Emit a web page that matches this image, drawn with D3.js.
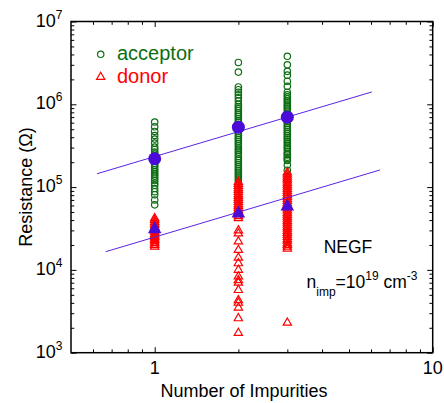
<!DOCTYPE html>
<html>
<head>
<meta charset="utf-8">
<script src="https://cdn.jsdelivr.net/npm/d3@7"></script>
<style>
  body { margin: 0; background: #fff; }
  svg { display: block; font-family: "Liberation Sans", Arial, sans-serif; }
</style>
</head>
<body>
<div id="chart"></div>
<script>
// number of impurities for each column
const impurities = [1, 2, 3]

// acceptor resistances (Ohm), one list per column
const acceptor1 = [6.1e5, 5.35e5, 4.7e5, 4.2e5, 3.8e5, 3.4e5, 3.05e5, 2.85e5, 2.65e5, 2.5e5, 2.35e5, 2.2e5,
                   2.05e5, 1.93e5, 1.82e5, 1.72e5, 1.62e5, 1.53e5, 1.44e5, 1.36e5, 1.28e5, 1.2e5, 1.12e5,
                   1.05e5, 9.6e4, 8.8e4, 8.1e4, 7.0e4, 6.1e4]
const acceptor2 = [3.2e6, 2.45e6, 1.62e6, 1.5e6, 1.4e6, 1.3e6, 1.2e6, 1.1e6, 1.0e6, 9.4e5, 8.9e5, 8.4e5,
                   7.9e5, 7.5e5, 7.1e5, 6.7e5, 6.3e5, 6.0e5, 5.6e5, 5.3e5, 5.0e5, 4.7e5, 4.45e5, 4.2e5,
                   3.95e5, 3.75e5, 3.55e5, 3.35e5, 3.15e5, 2.95e5, 2.8e5, 2.65e5, 2.5e5, 2.35e5, 2.2e5,
                   2.1e5, 1.98e5, 1.87e5, 1.76e5, 1.66e5, 1.57e5, 1.48e5, 1.4e5, 1.32e5, 1.25e5, 1.18e5]
const acceptor3 = [3.8e6, 3.0e6, 2.5e6, 2.25e6, 1.9e6, 1.65e6, 1.4e6, 1.3e6, 1.23e6, 1.16e6, 1.1e6, 1.04e6,
                   9.8e5, 9.3e5, 8.8e5, 8.3e5, 7.8e5, 7.4e5, 7.0e5, 6.6e5, 6.25e5, 5.9e5, 5.6e5, 5.3e5,
                   5.0e5, 4.7e5, 4.45e5, 4.2e5, 4.0e5, 3.8e5, 3.6e5, 3.4e5, 3.2e5, 3.05e5, 2.9e5, 2.7e5,
                   2.55e5, 2.45e5, 2.3e5, 2.2e5, 2.1e5, 1.85e5, 1.6e5]

// donor resistances (Ohm)
const donor1 = [4.2e4, 4.0e4, 3.8e4, 3.6e4, 3.45e4, 3.3e4, 3.15e4, 3.0e4, 2.85e4, 2.7e4, 2.6e4, 2.5e4,
                2.4e4, 2.3e4, 2.2e4, 2.1e4, 2.0e4, 1.9e4]
const donor2 = [1.15e5, 1.09e5, 1.03e5, 9.7e4, 9.2e4, 8.7e4, 8.2e4, 7.8e4, 7.4e4, 7.0e4, 6.6e4, 6.2e4,
                5.9e4, 5.6e4, 5.3e4, 5.0e4, 4.7e4, 4.45e4, 4.2e4,
                3.0e4, 2.75e4, 2.2e4, 1.74e4, 1.4e4, 1.2e4, 1.0e4, 8.3e3, 7.5e3, 7.0e3, 5.7e3, 4.3e3,
                4.0e3, 3.5e3, 2.6e3, 1.73e3]
const donor3 = [1.5e5, 1.42e5, 1.33e5, 1.26e5, 1.2e5, 1.13e5, 1.07e5, 1.01e5, 9.5e4, 9.0e4, 8.5e4, 8.0e4,
                7.6e4, 7.2e4, 6.8e4, 6.4e4, 6.1e4, 5.8e4, 5.5e4, 5.2e4, 4.9e4, 4.65e4, 4.4e4, 4.15e4,
                3.9e4, 3.7e4, 3.5e4, 3.3e4, 3.15e4, 2.95e4, 2.8e4, 2.65e4, 2.5e4, 2.35e4, 2.25e4, 2.1e4,
                2.0e4, 1.9e4, 1.8e4, 2.3e3]

// averages (big markers)
const acceptorMean = [2.2e5, 5.3e5, 7.0e5]
const donorMean = [3.1e4, 4.8e4, 5.8e4]

// fitted lines, endpoints
const fitAcceptorX = [0.62, 6.04]
const fitAcceptorY = [1.45e5, 1.41e6]
const fitDonorX = [0.667, 6.46]
const fitDonorY = [1.66e4, 1.61e5]

const xMajor = [1, 10]
const xMinor = [0.6, 0.7, 0.8, 0.9, 2, 3, 4, 5, 6, 7, 8, 9]
const yExponents = [3, 4, 5, 6, 7]

const width = 444, height = 403
const plotLeft = 71, plotRight = 432.7, plotTop = 21.5, plotBottom = 352.7
const green = "#0c6e12", red = "#ff0000", blue = "#4a0ad8"

const x = d3.scaleLog().domain([0.5, 10]).range([plotLeft, plotRight])
const y = d3.scaleLog().domain([1e3, 1e7]).range([plotBottom, plotTop])

const yMajor = yExponents.map(e => Math.pow(10, e))
const yMinor = []
yExponents.slice(0, -1).forEach(e => {
  for (let m = 2; m <= 9; m++) yMinor.push(m * Math.pow(10, e))
})

const svg = d3.select("#chart").append("svg")
  .attr("width", width)
  .attr("height", height)

// ticks on all four sides, pointing inwards
function ticks(axisFn, scale, values, size, transform) {
  svg.append("g")
    .attr("transform", transform)
    .call(axisFn(scale).tickValues(values).tickSize(-size).tickSizeOuter(0).tickFormat(""))
    .call(g => g.select(".domain").remove())
    .call(g => g.selectAll("line").attr("stroke", "#000").attr("stroke-width", 1))
}
ticks(d3.axisBottom, x, xMajor, 5.5, `translate(0,${plotBottom})`)
ticks(d3.axisBottom, x, xMinor, 3.3, `translate(0,${plotBottom})`)
ticks(d3.axisTop, x, xMajor, 5.5, `translate(0,${plotTop})`)
ticks(d3.axisTop, x, xMinor, 3.3, `translate(0,${plotTop})`)
ticks(d3.axisLeft, y, yMajor, 5.5, `translate(${plotLeft},0)`)
ticks(d3.axisLeft, y, yMinor, 3.3, `translate(${plotLeft},0)`)
ticks(d3.axisRight, y, yMajor, 5.5, `translate(${plotRight},0)`)
ticks(d3.axisRight, y, yMinor, 3.3, `translate(${plotRight},0)`)

svg.append("rect")
  .attr("x", plotLeft).attr("y", plotTop)
  .attr("width", plotRight - plotLeft).attr("height", plotBottom - plotTop)
  .attr("fill", "none").attr("stroke", "#000").attr("stroke-width", 1.5)

// tick labels
svg.selectAll(".xlabel")
  .data(xMajor)
  .enter().append("text")
  .attr("x", d => x(d))
  .attr("y", 373.5)
  .attr("text-anchor", "middle")
  .attr("font-size", 18)
  .text(d => d)

const ylab = svg.selectAll(".ylabel")
  .data(yExponents)
  .enter().append("text")
  .attr("x", 62.5)
  .attr("y", d => y(Math.pow(10, d)) + 5)
  .attr("text-anchor", "end")
  .attr("font-size", 18)
ylab.append("tspan").text("10")
ylab.append("tspan").attr("dy", -8).attr("font-size", 12).text(d => d)

// axis titles
svg.append("text")
  .attr("x", 244).attr("y", 397)
  .attr("text-anchor", "middle")
  .attr("font-size", 18)
  .text("Number of Impurities")

svg.append("text")
  .attr("transform", `translate(32,${(plotTop + plotBottom) / 2}) rotate(-90)`)
  .attr("text-anchor", "middle")
  .attr("font-size", 18)
  .text("Resistance (Ω)")

// scatter
const triangle = d3.symbol().type(d3.symbolTriangle).size(30)
const bigTriangle = d3.symbol().type(d3.symbolTriangle).size(80)

const acceptorPts = [acceptor1, acceptor2, acceptor3]
  .flatMap((vals, i) => vals.map(v => ({ n: impurities[i], r: v })))
const donorPts = [donor1, donor2, donor3]
  .flatMap((vals, i) => vals.map(v => ({ n: impurities[i], r: v })))

svg.append("g").selectAll("circle")
  .data(acceptorPts)
  .enter().append("circle")
  .attr("cx", d => x(d.n))
  .attr("cy", d => y(d.r))
  .attr("r", 3.2)
  .attr("fill", "none")
  .attr("stroke", green)
  .attr("stroke-width", 1.2)

svg.append("g").selectAll("path")
  .data(donorPts)
  .enter().append("path")
  .attr("d", triangle)
  .attr("transform", d => `translate(${x(d.n)},${y(d.r)})`)
  .attr("fill", "none")
  .attr("stroke", red)
  .attr("stroke-width", 1.2)

// fits
const line = d3.line().x(d => x(d[0])).y(d => y(d[1]))
svg.append("path")
  .attr("d", line(d3.zip(fitAcceptorX, fitAcceptorY)))
  .attr("stroke", "#5a24e6").attr("stroke-width", 1).attr("fill", "none")
svg.append("path")
  .attr("d", line(d3.zip(fitDonorX, fitDonorY)))
  .attr("stroke", "#5a24e6").attr("stroke-width", 1).attr("fill", "none")

// means
svg.append("g").selectAll("circle")
  .data(acceptorMean)
  .enter().append("circle")
  .attr("cx", (d, i) => x(impurities[i]))
  .attr("cy", d => y(d))
  .attr("r", 6.5)
  .attr("fill", blue)

svg.append("g").selectAll("path")
  .data(donorMean)
  .enter().append("path")
  .attr("d", bigTriangle)
  .attr("transform", (d, i) => `translate(${x(impurities[i])},${y(d)})`)
  .attr("fill", blue)

// legend
svg.append("circle")
  .attr("cx", 100.7).attr("cy", 54.3).attr("r", 3.2)
  .attr("fill", "none").attr("stroke", green).attr("stroke-width", 1.2)
svg.append("text")
  .attr("x", 117).attr("y", 59.5)
  .attr("font-size", 20).attr("fill", green)
  .text("acceptor")
svg.append("path")
  .attr("d", triangle)
  .attr("transform", "translate(100.7,77)")
  .attr("fill", "none").attr("stroke", red).attr("stroke-width", 1.2)
svg.append("text")
  .attr("x", 117).attr("y", 82.5)
  .attr("font-size", 20).attr("fill", red)
  .text("donor")

// annotations
svg.append("text")
  .attr("x", 348).attr("y", 252.7)
  .attr("text-anchor", "middle")
  .attr("font-size", 17.5)
  .text("NEGF")

const note = svg.append("text")
  .attr("x", 306.5).attr("y", 288.3)
  .attr("font-size", 17.5)
note.append("tspan").text("n")
note.append("tspan").attr("dy", 8).attr("font-size", 12).text("imp")
note.append("tspan").attr("dy", -8).text("=10")
note.append("tspan").attr("dy", -8).attr("font-size", 12).text("19")
note.append("tspan").attr("dy", 8).text(" cm")
note.append("tspan").attr("dy", -8).attr("font-size", 12).text("-3")
</script>
</body>
</html>
